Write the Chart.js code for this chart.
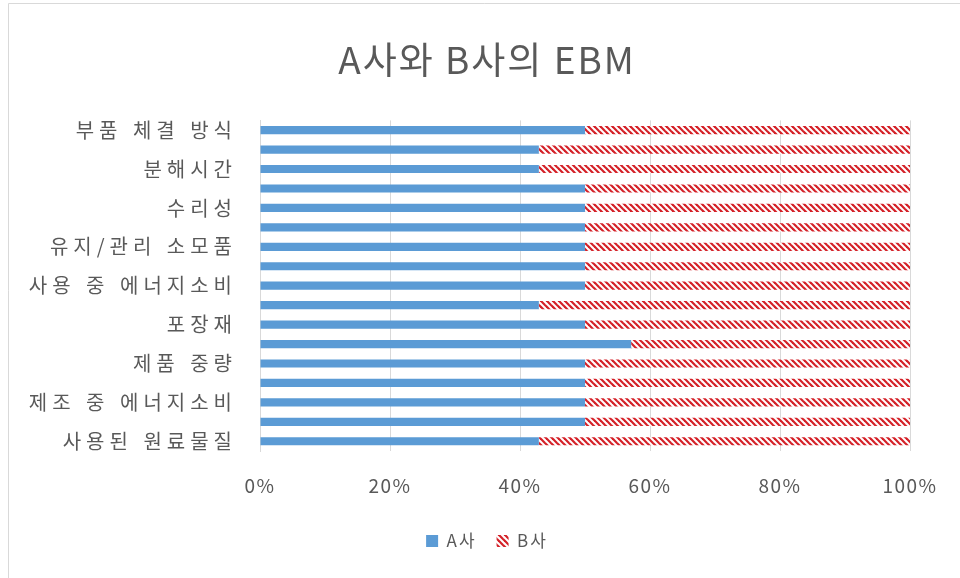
<!DOCTYPE html>
<html>
<head>
<meta charset="utf-8">
<script src="https://cdn.jsdelivr.net/npm/chart.js@4/dist/chart.umd.min.js"></script>
<style>
  html, body { margin: 0; padding: 0; background: #ffffff; }
  #wrap { width: 960px; height: 578px; position: relative; }
</style>
</head>
<body>
<div id="wrap"><canvas id="c" width="960" height="578"></canvas></div>
<script>
// Categories, top to bottom (Excel shows only every other label)
const categories = [
  '부품 체결 방식', '', '분해시간', '', '수리성', '', '유지/관리 소모품', '',
  '사용 중 에너지소비', '', '포장재', '', '제품 중량', '', '제조 중 에너지소비', '',
  '사용된 원료물질'
];
const seriesNames = ['A사', 'B사'];
// Share of each company (%)
const shareA = [50, 42.9, 42.9, 50, 50, 50, 50, 50, 50, 42.9, 50, 57.1, 50, 50, 50, 50, 42.9];
const shareB = [50, 57.1, 57.1, 50, 50, 50, 50, 50, 50, 57.1, 50, 42.9, 50, 50, 50, 50, 57.1];
const xTicks = [0, 20, 40, 60, 80, 100];
const titleText = 'A사와 B사의 EBM';

const FONT = "'Noto Sans CJK KR', 'Noto Sans', sans-serif";
const TEXT = '#595959';

// letter/word spacing per font size, to mimic the wider original typeface
const canvas = document.getElementById('c');
const ctx0 = canvas.getContext('2d');
const spacingBySize = {
  '37': ['2px', '0px'], '20': ['5px', '1px'], '19': ['1.5px', '0px'], '17': ['2px', '0px']
};
function applySpacing(c) {
  const m = c.font.match(/(\d+(?:\.\d+)?)px/);
  const s = (m && spacingBySize[m[1]]) || ['0px', '0px'];
  c.letterSpacing = s[0];
  c.wordSpacing = s[1];
}
const origFill = ctx0.fillText;
ctx0.fillText = function (...a) { applySpacing(this); return origFill.apply(this, a); };
const origMeasure = ctx0.measureText;
ctx0.measureText = function (...a) { applySpacing(this); return origMeasure.apply(this, a); };

function makeHatch() {
  const s = 6;
  const p = document.createElement('canvas');
  p.width = s; p.height = s;
  const g = p.getContext('2d');
  g.fillStyle = '#ffffff';
  g.fillRect(0, 0, s, s);
  g.strokeStyle = '#D42027';
  g.lineWidth = 2.2;
  for (let k = -1; k <= 1; k++) {
    g.beginPath();
    g.moveTo(-s, -s + k * s);
    g.lineTo(2 * s, 2 * s + k * s);
    g.stroke();
  }
  return ctx0.createPattern(p, 'repeat');
}
const hatch = makeHatch();

const frame = {
  id: 'frame',
  beforeDraw(chart) {
    const ctx = chart.ctx;
    ctx.save();
    ctx.fillStyle = '#ffffff';
    ctx.fillRect(0, 0, chart.width, chart.height);
    ctx.strokeStyle = '#d9d9d9';
    ctx.lineWidth = 1;
    ctx.beginPath();
    ctx.moveTo(8.5, chart.height);
    ctx.lineTo(8.5, 3.5);
    ctx.lineTo(chart.width, 3.5);
    ctx.stroke();
    ctx.restore();
  }
};

new Chart(canvas, {
  type: 'bar',
  data: {
    labels: categories,
    datasets: [
      { label: seriesNames[0], data: shareA, backgroundColor: '#5B9BD5', borderWidth: 0,
        categoryPercentage: 1, barPercentage: 0.42 },
      { label: seriesNames[1], data: shareB, backgroundColor: hatch, borderWidth: 0,
        categoryPercentage: 1, barPercentage: 0.42 }
    ]
  },
  options: {
    indexAxis: 'y',
    responsive: false,
    animation: false,
    layout: { padding: { left: 14, right: 0, top: 0, bottom: 18.5 } },
    plugins: {
      title: {
        display: true, text: titleText, color: TEXT,
        font: { family: FONT, size: 37, weight: 'normal' },
        padding: { top: 38, bottom: 38 }
      },
      legend: {
        position: 'bottom',
        labels: {
          color: TEXT, boxWidth: 12, boxHeight: 12, padding: 20,
          font: { family: FONT, size: 17 }
        }
      },
      tooltip: { enabled: false }
    },
    scales: {
      x: {
        stacked: true, min: 0, max: 100,
        afterBuildTicks(scale) { scale.ticks = xTicks.map(v => ({ value: v })); },
        afterFit(scale) { scale.height = 61.5; scale.paddingLeft = 0; scale.paddingRight = 50; },
        grid: { color: '#d9d9d9', drawTicks: false },
        border: { display: false },
        ticks: {
          padding: 23, color: TEXT,
          font: { family: FONT, size: 19 },
          callback: v => v + '%'
        }
      },
      y: {
        stacked: true,
        afterFit(scale) { scale.width = 246; },
        grid: { display: false, drawTicks: false },
        border: { display: true, color: '#d9d9d9' },
        ticks: {
          autoSkip: false, padding: 23, color: TEXT,
          font: { family: FONT, size: 20 }
        }
      }
    }
  },
  plugins: [frame]
});
</script>
</body>
</html>
